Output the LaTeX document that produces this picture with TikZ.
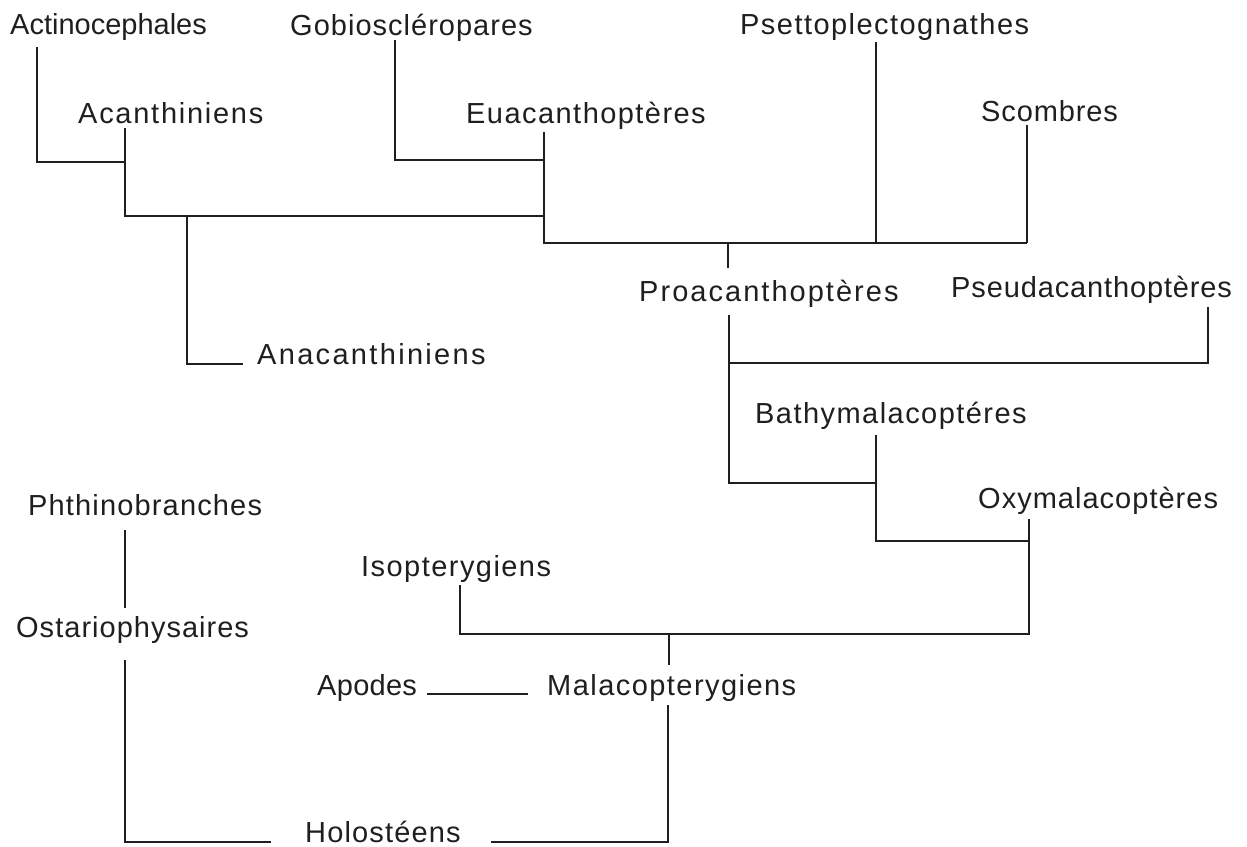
\documentclass[tikz,border=0pt]{standalone}
\usepackage{fontspec}
\setmainfont[LetterSpace=5]{Liberation Sans}
\begin{document}
\begin{tikzpicture}[x=1pt,y=-1pt,
  lbl/.style={anchor=base west, inner sep=0pt, font=\fontsize{29}{34}\selectfont, text=black!88},
  ls/.style={font=\fontsize{29}{34}\selectfont\addfontfeatures{LetterSpace=#1}},
  br/.style={draw=black!88, line width=1.8pt, line join=miter}]
\fill[white] (0,0) rectangle (1247,846);
\useasboundingbox (0,0) rectangle (1247,846);
% labels
\node[lbl,ls=0] (acti)  at (10,34)   {Actinocephales};
\node[lbl,ls=3.5] (gobi)  at (290,35)  {Gobioscléropares};
\node[lbl] (psett) at (740,34)  {Psettoplectognathes};
\node[lbl,ls=6] (acan)  at (78,123)  {Acanthiniens};
\node[lbl] (euac)  at (466,123) {Euacanthoptères};
\node[lbl,ls=3] (scom)  at (981,121) {Scombres};
\node[lbl,ls=8] (anac)  at (257,364) {Anacanthiniens};
\node[lbl,ls=7] (proa)  at (639,301) {Proacanthoptères};
\node[lbl,ls=3] (pseu)  at (951,297) {Pseudacanthoptères};
\node[lbl] (bath)  at (755,423) {Bathymalacoptéres};
\node[lbl,ls=3.5] (oxym)  at (978,508) {Oxymalacoptères};
\node[lbl,ls=4] (phth)  at (28,515)  {Phthinobranches};
\node[lbl,ls=3.5] (ostar) at (16,637)  {Ostariophysaires};
\node[lbl] (isop)  at (361,576) {Isopterygiens};
\node[lbl,ls=1] (apod)  at (317,695) {Apodes};
\node[lbl] (mala)  at (547,695) {Malacopterygiens};
\node[lbl,ls=4] (holo)  at (305,842) {Holostéens};
% connector end points and junctions
\coordinate (actiB) at (37,47);
\coordinate (jActi) at (37,162);
\coordinate (acanB) at (125,128);
\coordinate (jAcan) at (125,162);
\coordinate (jA1)   at (125,216);
\coordinate (jA2)   at (187,216);
\coordinate (jA3)   at (544,216);
\coordinate (jAna)  at (187,364);
\coordinate (anacL) at (243,364);
\coordinate (gobiB) at (395,40);
\coordinate (jGobi) at (395,160);
\coordinate (jEua)  at (544,160);
\coordinate (euacB) at (544,132);
\coordinate (jE1)   at (544,243);
\coordinate (jE2)   at (728,243);
\coordinate (jE3)   at (876,243);
\coordinate (jE4)   at (1027,243);
\coordinate (psetB) at (876,42);
\coordinate (scomB) at (1027,125);
\coordinate (proaT) at (728,268);
\coordinate (proaB) at (729,315);
\coordinate (jP1)   at (729,363);
\coordinate (jP2)   at (1208,363);
\coordinate (pseuB) at (1208,307);
\coordinate (jP3)   at (729,483);
\coordinate (jP4)   at (876,483);
\coordinate (bathB) at (876,435);
\coordinate (jB1)   at (876,541);
\coordinate (jB2)   at (1029,541);
\coordinate (oxymB) at (1029,519);
\coordinate (jO1)   at (1029,634);
\coordinate (jO2)   at (669,634);
\coordinate (jO3)   at (460,634);
\coordinate (isopB) at (460,585);
\coordinate (malaT) at (669,665);
\coordinate (apodR) at (427,694);
\coordinate (malaL) at (528,694);
\coordinate (phthB) at (125,530);
\coordinate (ostaT) at (125,608);
\coordinate (ostaB) at (125,660);
\coordinate (jH1)   at (125,842);
\coordinate (holoL) at (271,842);
\coordinate (holoR) at (491,842);
\coordinate (jH2)   at (668,842);
\coordinate (malaB) at (668,705);
% connectors
\draw[br] (actiB) -- (jActi) -- (jAcan);
\draw[br] (acanB) -- (jA1) -- (jA3);
\draw[br] (jA2) -- (jAna) -- (anacL);
\draw[br] (gobiB) -- (jGobi) -- (jEua);
\draw[br] (euacB) -- (jE1) -- (jE4);
\draw[br] (psetB) -- (jE3);
\draw[br] (scomB) -- (jE4);
\draw[br] (jE2) -- (proaT);
\draw[br] (proaB) -- (jP3) -- (jP4);
\draw[br] (jP1) -- (jP2) -- (pseuB);
\draw[br] (bathB) -- (jB1) -- (jB2);
\draw[br] (oxymB) -- (jO1) -- (jO3) -- (isopB);
\draw[br] (jO2) -- (malaT);
\draw[br] (apodR) -- (malaL);
\draw[br] (phthB) -- (ostaT);
\draw[br] (ostaB) -- (jH1) -- (holoL);
\draw[br] (holoR) -- (jH2) -- (malaB);
\end{tikzpicture}
\end{document}
